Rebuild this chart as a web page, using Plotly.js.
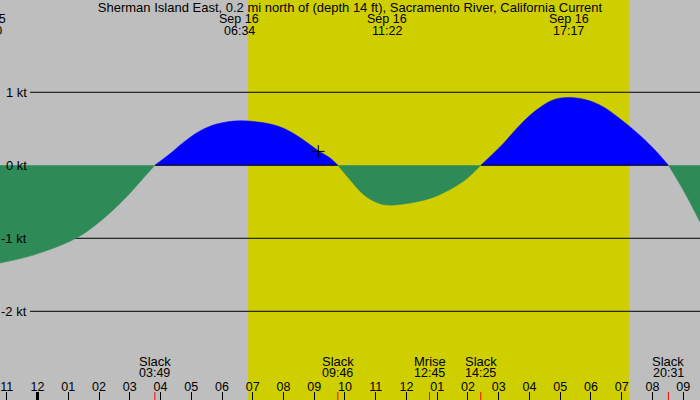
<!DOCTYPE html>
<html>
<head>
<meta charset="utf-8">
<script src="https://cdn.plot.ly/plotly-3.0.1.min.js"></script>
<style>
html, body { margin: 0; padding: 0; background: #bebebe; }
#chart { width: 700px; height: 400px; }
</style>
</head>
<body>
<div id="chart"></div>
<script>
// current speed (kt); + is flood, - is ebb
var curveTimes = [
    '2024-09-15 22:46', '2024-09-15 23:52', '2024-09-16 01:15', '2024-09-16 02:02',
    '2024-09-16 02:54', '2024-09-16 03:26', '2024-09-16 03:49', '2024-09-16 04:19',
    '2024-09-16 04:44', '2024-09-16 05:17', '2024-09-16 05:50', '2024-09-16 06:34',
    '2024-09-16 07:27', '2024-09-16 07:59', '2024-09-16 08:32', '2024-09-16 09:08',
    '2024-09-16 09:31', '2024-09-16 09:46', '2024-09-16 10:10', '2024-09-16 10:36',
    '2024-09-16 11:02', '2024-09-16 11:22', '2024-09-16 12:13', '2024-09-16 12:59',
    '2024-09-16 13:51', '2024-09-16 14:25', '2024-09-16 15:09', '2024-09-16 15:41',
    '2024-09-16 16:14', '2024-09-16 16:46', '2024-09-16 17:17', '2024-09-16 17:52',
    '2024-09-16 18:24', '2024-09-16 18:56', '2024-09-16 19:29', '2024-09-16 20:02',
    '2024-09-16 20:31', '2024-09-16 21:00', '2024-09-16 21:35'
];
var curveKnots = [
    -1.34, -1.23, -1.00, -0.77,
    -0.43, -0.18, 0, 0.16,
    0.31, 0.47, 0.565, 0.61,
    0.575, 0.51, 0.38, 0.20,
    0.10, 0, -0.20, -0.40,
    -0.51, -0.545, -0.51, -0.42,
    -0.22, 0, 0.30, 0.55,
    0.76, 0.895, 0.93, 0.895,
    0.80, 0.64, 0.45, 0.23,
    0, -0.34, -0.81
];

// max flood / max ebb events shown along the top
var peakTimes = ['2024-09-15 22:20', '2024-09-16 06:34', '2024-09-16 11:22', '2024-09-16 17:17'];
var peakDates = ['Sep 15', 'Sep 16', 'Sep 16', 'Sep 16'];
var peakClock = ['22:20', '06:34', '11:22', '17:17'];

// slack water and moonrise shown along the bottom
var eventTimes = ['2024-09-16 03:49', '2024-09-16 09:46', '2024-09-16 12:45', '2024-09-16 14:25', '2024-09-16 20:31'];
var eventNames = ['Slack', 'Slack', 'Mrise', 'Slack', 'Slack'];
var eventClock = ['03:49', '09:46', '12:45', '14:25', '20:31'];

var sunrise = '2024-09-16 06:51';
var sunset = '2024-09-16 19:14';
var midnight = '2024-09-16 00:00';

var gridLevels = [1, -1, -2];
var levelTicks = [1, 0, -1, -2];
var levelLabels = ['1 kt', '0 kt', '-1 kt', '-2 kt'];

var nowTime = '2024-09-16 09:08';
var nowValue = 0.19;

var viewStart = '2024-09-15 22:46:50';
var viewEnd = '2024-09-16 21:32:42';

var BG = '#bebebe';
var DAY = '#cfcf00';
var FLOOD = '#0000ff';
var EBB = '#2e8b57';
var FONT = 'Liberation Sans, Arial, sans-serif';

function py(px) { return 1 - px / 400; }

var floodY = curveKnots.map(v => v >= 0 ? v : null);
var ebbY = curveKnots.map(v => v <= 0 ? v : null);
var zeroY = curveKnots.map(v => v >= 0 ? 0 : null);

var traces = [
    {x: curveTimes, y: floodY, mode: 'lines', fill: 'tozeroy', fillcolor: FLOOD,
     line: {color: FLOOD, width: 0.5, shape: 'spline', smoothing: 1}, connectgaps: false},
    {x: curveTimes, y: zeroY, mode: 'lines', line: {color: '#000', width: 1}, connectgaps: false},
    {x: curveTimes, y: ebbY, mode: 'lines', fill: 'tozeroy', fillcolor: EBB,
     line: {color: EBB, width: 0.5, shape: 'spline', smoothing: 1}, connectgaps: false},
    {x: [nowTime], y: [nowValue], mode: 'markers',
     marker: {symbol: 'cross-thin', size: 9, line: {color: '#000', width: 1}}}
];

var shapes = [
    {type: 'rect', xref: 'x', yref: 'paper', x0: sunrise, x1: sunset, y0: 0, y1: 1,
     fillcolor: DAY, line: {width: 0}, layer: 'below'}
];
gridLevels.forEach(function (lv) {
    shapes.push({type: 'line', xref: 'paper', yref: 'y', x0: 30 / 700, x1: 1, y0: lv, y1: lv,
                 line: {color: '#000', width: 1}, layer: 'below'});
});
// red ticks at events, thick tick at midnight
eventTimes.forEach(function (t) {
    shapes.push({type: 'line', xref: 'x', yref: 'paper', x0: t, x1: t, y0: 0, y1: 8 / 400,
                 line: {color: '#ff0000', width: 1}});
});
shapes.push({type: 'line', xref: 'x', yref: 'paper', x0: midnight, x1: midnight, y0: 0, y1: 8 / 400,
             line: {color: '#000', width: 3}});

var annotations = [];
function txt(x, xref, ypx, text, size) {
    annotations.push({x: x, xref: xref, y: py(ypx), yref: 'paper', text: text,
                      showarrow: false, xanchor: 'center', yanchor: 'middle',
                      font: {family: FONT, size: size, color: '#000'}});
}

var t0 = new Date(viewStart.replace(' ', 'T')).getTime();
var t1 = new Date(viewEnd.replace(' ', 'T')).getTime();
peakTimes.forEach(function (t, i) {
    var ms = new Date(t.replace(' ', 'T')).getTime();
    if (ms < t0) {
        // off the left edge: only a sliver shows
        var fx = (ms - t0) / (t1 - t0);
        txt(fx, 'paper', 19, peakDates[i], 12.5);
        txt(fx, 'paper', 31, peakClock[i], 12.5);
    } else {
        txt(t, 'x', 19, peakDates[i], 12.5);
        txt(t, 'x', 31, peakClock[i], 12.5);
    }
});
eventTimes.forEach(function (t, i) {
    txt(t, 'x', 361, eventNames[i], 13);
    txt(t, 'x', 373, eventClock[i], 12.5);
});
levelTicks.forEach(function (lv, i) {
    annotations.push({x: 28.5 / 700, xref: 'paper', y: lv, yref: 'y', text: levelLabels[i],
                      showarrow: false, xanchor: 'right', yanchor: 'middle', xshift: 0,
                      font: {family: FONT, size: 13, color: '#000'}});
});

var layout = {
    width: 700,
    height: 400,
    margin: {l: 0, r: 0, t: 0, b: 0},
    paper_bgcolor: BG,
    plot_bgcolor: BG,
    showlegend: false,
    hovermode: false,
    title: {
        text: 'Sherman Island East, 0.2 mi north of (depth 14 ft), Sacramento River, California Current',
        font: {family: FONT, size: 13, color: '#000'},
        x: 0.5, xanchor: 'center', y: py(7), yref: 'container', yanchor: 'middle'
    },
    xaxis: {
        type: 'date',
        range: [viewStart, viewEnd],
        tick0: midnight,
        dtick: 3600000,
        tickformat: '%I',
        ticks: 'inside',
        ticklen: 8,
        tickwidth: 1,
        tickcolor: '#000',
        ticklabelposition: 'inside',
        ticklabeloverflow: 'allow',
        ticklabelstandoff: -2,
        tickfont: {family: FONT, size: 12.5, color: '#000'},
        showgrid: false,
        zeroline: false,
        showline: false,
        fixedrange: true
    },
    yaxis: {
        range: [-3.215, 2.264],
        showgrid: false,
        zeroline: false,
        showline: false,
        showticklabels: false,
        ticks: '',
        fixedrange: true
    },
    shapes: shapes,
    annotations: annotations
};

Plotly.newPlot('chart', traces, layout, {displayModeBar: false, staticPlot: true});
</script>
</body>
</html>
